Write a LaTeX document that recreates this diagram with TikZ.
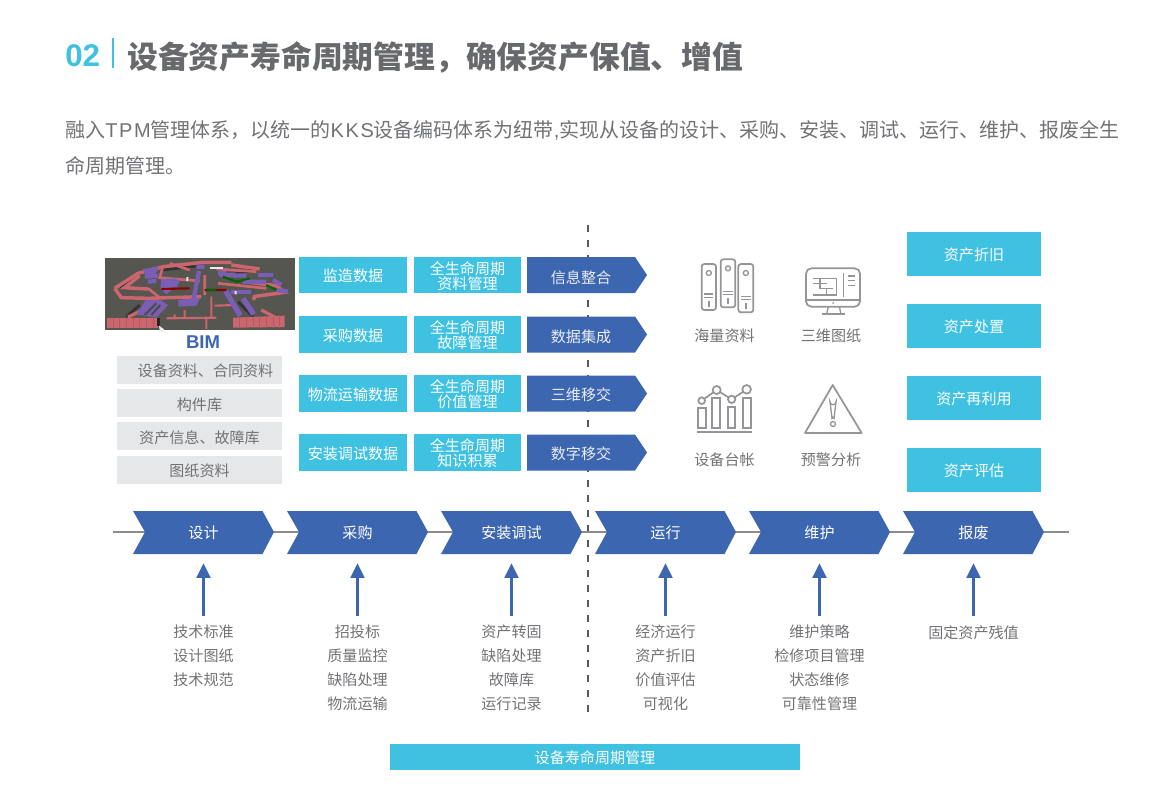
\documentclass[tikz,border=0pt]{standalone}
\usepackage{fontspec}
\setmainfont{Noto Sans CJK SC}
\newfontfamily\lat[LetterSpace=8]{Liberation Sans}
\newfontfamily\latb{Liberation Sans}
\usetikzlibrary{arrows.meta}
\definecolor{cyanc}{HTML}{3FC1E1}
\definecolor{bluec}{HTML}{3D66B0}
\definecolor{grayb}{HTML}{E6E7E8}
\definecolor{txt}{HTML}{717275}
\definecolor{titlec}{HTML}{68696C}
\definecolor{icon}{HTML}{949598}
\definecolor{bimbg}{HTML}{55564F}
\definecolor{bimr}{HTML}{CB666E}
\definecolor{bimp}{HTML}{7A5DB4}
\newcommand\fs[2]{\fontsize{#1}{#2}\selectfont}
\newcommand\dn[1]{\rule{0pt}{#1pt}}
\newcommand\fwc{^^^^ff0c}
\tikzset{
  lbl/.style={inner sep=0pt,text=txt,font=\fs{11.3}{13.6}},
  card/.style={fill=cyanc,inner sep=0pt,text=white,font=\fs{11.3}{11.3},align=center,minimum height=27.4pt},
  graybox/.style={fill=grayb,inner sep=0pt,text=txt,font=\fs{11.3}{13},minimum width=123.75pt,minimum height=21pt},
  rcard/.style={fill=cyanc,inner sep=0pt,text=white,font=\fs{11.3}{13},minimum width=100.5pt,minimum height=33pt},
  steplabel/.style={inner sep=0pt,text=txt,font=\fs{11.3}{18},align=center},
  chevbox/.style={inner sep=0pt,text=white,font=\fs{11.3}{13},minimum width=105.75pt,minimum height=32.25pt},
  penbox/.style={inner sep=0pt,text=white!88!bluec,font=\fs{11.3}{13},minimum width=90pt,minimum height=27pt},
  upar/.style={draw=bluec,line width=1.6pt,-{Triangle[width=10.5pt,length=11pt]},shorten >=6.75pt,shorten <=6.75pt},
  ic/.style={draw=icon,line width=1.3pt,fill=none},
  ict/.style={draw=icon,line width=1pt},
  rw/.style={draw=bimr,line width=2.6pt},
  pw/.style={draw=bimp,line width=3.2pt},
}
\newcommand\chev[3]{% name, center x, text
  \fill[bluec] (#2-70.5,511) -- (#2+59,511) -- (#2+70.5,532) -- (#2+59,554) -- (#2-70.5,554) -- (#2-58.5,532) -- cycle;
  \node[chevbox] (#1) at (#2,532.5) {#3};
}
\newcommand\penta[4]{% name, y, text y, text
  \fill[bluec] (527,#2-18) -- (635,#2-18) -- (647,#2) -- (635,#2+18) -- (527,#2+18) -- cycle;
  \node[penbox] (#1) at (581,#3) {#4};
}
\begin{document}
\begin{tikzpicture}[x=0.75pt,y=-0.75pt]
\useasboundingbox (0,0) rectangle (1169,785);
% heading
\node[anchor=west,inner sep=0pt,text=cyanc,font=\latb\bfseries\fs{23.5}{26}] (num) at (65,56) {02};
\coordinate (bara) at (113,38);
\coordinate (barb) at (113,68);
\draw[cyanc,line width=1.5pt] (bara) -- (barb);
\node[anchor=west,inner sep=0pt,text=titlec,font=\bfseries\fs{23.1}{26}] (title) at (127,57.5) {设备资产寿命周期管理\fwc 确保资产保值、增值};
\node[anchor=west,inner sep=0pt,text=txt,font=\fs{15}{17}] (body1) at (65,130) {融入{\lat TPM}管理体系\fwc 以统一的{\lat KKS}设备编码体系为纽带{\latb ,}实现从设备的设计、采购、安装、调试、运行、维护、报废全生};
\node[anchor=west,inner sep=0pt,text=txt,font=\fs{15}{17}] (body2) at (65,165.5) {命周期管理。};
% divider
\coordinate (dtop) at (588,225);
\coordinate (dbot) at (588,712);
\draw[black!65,line width=1.3pt,dash pattern=on 5.25pt off 6pt] (dtop) -- (dbot);
% timeline
\coordinate (ta) at (113,532);
\coordinate (tb) at (1069,532);
\draw[black!45,line width=1.2pt] (ta) -- (tb);
% BIM image
\begin{scope}[shift={(103,255)},x=0.25pt,y=-0.25pt]
  \begin{scope}
  \clip (6,10) rectangle (576,226);
  \fill[bimbg] (6,10) rectangle (576,226);
  % dark shadow strokes
  \draw[black!80,line width=2pt] (50,95) -- (110,55) (110,150) -- (70,185) (140,180) -- (165,150) (405,140) -- (450,185) (385,60) -- (470,40) (180,45) -- (290,32);
  % red outer loop
  \draw[rw] (35,100) -- (105,55) -- (180,35) -- (300,22) -- (385,22) (385,30) -- (470,42);
  \draw[rw] (35,100) -- (55,128) -- (135,130) -- (295,125);
  \draw[rw] (110,62) -- (65,98) -- (135,102);
  \draw[rw] (450,125) -- (545,112) -- (520,92) -- (440,82);
  \draw[rw,line width=2pt] (180,35) -- (170,68) -- (290,78) (340,42) -- (460,50) (345,85) -- (490,100) (200,25) -- (260,45) (305,60) -- (305,120) (135,100) -- (170,128);
  \draw[rw,line width=1.6pt] (190,190) -- (340,188) (325,125) -- (325,185) (245,165) -- (245,190) (310,185) -- (310,222) (215,178) -- (215,190) (335,152) -- (400,150);
  \draw[rw,line width=2.4pt] (120,165) -- (75,186) (475,165) -- (515,186) (450,125) -- (455,135);
  % purple masses
  \fill[bimp] (128,135) -- (172,135) -- (195,150) -- (160,188) -- (100,178) -- cycle;
  \fill[bimp] (175,72) -- (218,70) -- (212,100) -- (190,118) -- (172,100) -- cycle;
  \fill[bimp] (226,135) -- (292,128) -- (280,152) -- (226,155) -- cycle;
  \fill[bimp] (120,42) -- (168,35) -- (155,60) -- (125,58) -- cycle;
  \draw[black!70,line width=1.6pt] (125,180) -- (160,145) (145,180) -- (172,150);
  \draw[pw] (288,48) -- (272,132);
  \draw[pw] (125,65) -- (165,62) (135,80) -- (160,78) (225,75) -- (215,95);
  \draw[pw,line width=4pt] (368,108) -- (412,182) (420,130) -- (452,178);
  \draw[pw] (385,112) -- (445,112);
  \draw[pw] (350,60) -- (430,62) (420,80) -- (490,80) (465,60) -- (510,60) (510,75) -- (535,90) (520,105) -- (555,110) (280,35) -- (305,35) (345,55) -- (370,55);
  % red/green pipes
  \draw[draw=red!55!black,line width=1.6pt] (175,102) -- (260,100) (305,105) -- (370,105);
  \draw[draw=green!40!black,line width=1.6pt] (360,65) -- (400,80) -- (440,70) (490,90) -- (520,105) (310,105) -- (340,105);
  % bottom blocks
  \fill[bimr] (12,188) -- (165,188) -- (165,218) -- (12,218) -- cycle;
  \fill[bimr] (390,188) -- (545,182) -- (545,216) -- (390,218) -- cycle;
  \foreach \t in {30,50,...,150}{\draw[bimr!88!black,line width=0.3pt] (\t,188) -- (\t,218);}
  \foreach \t in {410,430,...,530}{\draw[bimr!88!black,line width=0.3pt] (\t,187) -- (\t,218);}
  \fill[black!85] (163,190) rectangle (171,212);
  % highlights
  \fill[white!85!gray] (320,35) rectangle (360,42);
  \fill[white!80!gray] (250,66) rectangle (256,78) (395,108) rectangle (401,118);
  \end{scope}
  \fill[white!85!gray] (168,212) -- (182,222) -- (186,234) -- (170,226) -- cycle;
\end{scope}
\node[inner sep=0pt,text=bluec,font=\latb\bfseries\fs{13.9}{15}] (bim) at (203,342) {BIM};
% gray list
\node[graybox] (g1) at (199.5,369.5) {\dn{12}\hspace*{9pt}设备资料、合同资料};
\node[graybox] (g2) at (199.5,403) {\dn{12}构件库};
\node[graybox] (g3) at (199.5,436) {\dn{12}资产信息、故障库};
\node[graybox] (g4) at (199.5,470) {\dn{11}图纸资料};
% data cards
\begin{scope}[every node/.append style={card}]
\node[minimum width=81pt] (d1) at (353,275) {\dn{11}监造数据};
\node[minimum width=81pt] (d2) at (353,334.5) {\dn{11}采购数据};
\node[minimum width=81pt] (d3) at (353,393.5) {\dn{11}物流运输数据};
\node[minimum width=81pt] (d4) at (353,452.5) {\dn{11}安装调试数据};
\node[minimum width=80.25pt] (m1) at (467.5,275) {\dn{11}全生命周期\\资料管理};
\node[minimum width=80.25pt] (m2) at (467.5,334.5) {\dn{11}全生命周期\\故障管理};
\node[minimum width=80.25pt] (m3) at (467.5,393.5) {\dn{11}全生命周期\\价值管理};
\node[minimum width=80.25pt] (m4) at (467.5,452.5) {\dn{11}全生命周期\\知识积累};
\end{scope}
\penta{p1}{275}{278}{信息整合}
\penta{p2}{334.5}{336.5}{数据集成}
\penta{p3}{393.5}{394.5}{三维移交}
\penta{p4}{452.5}{453.5}{数字移交}
% icons
\begin{scope}[shift={(680,250)},x=0.25pt,y=-0.25pt]
  \foreach \xa/\ya/\xb/\yb in {65/42/108/180,122/28/166/172,175/42/220/187}{
    \draw[ic,rounded corners=2pt] (\xa,\ya) rectangle (\xb,\yb);
    \pgfmathsetmacro\xm{(\xa+\xb)/2}
    \draw[ict] (\xm,\ya+27) circle (7.5);
    \draw[ict] (\xa+8,\yb-48) -- (\xb-8,\yb-48) (\xa+8,\yb-38) -- (\xb-8,\yb-38) (\xm,\yb-28) -- (\xm,\yb-10);
  }
  % monitor
  \draw[ic,rounded corners=4pt] (378,55) rectangle (540,170);
  \draw[ic] (378,150) -- (540,150);
  \draw[ict] (445,170) -- (440,192) (478,170) -- (483,192);
  \draw[ic] (425,193) -- (495,193);
  \fill[icon] (459,159) circle (3);
  \draw[ict,line width=1.2pt] (400,85) -- (470,85) -- (470,135) -- (400,135) (400,100) -- (440,100) (420,85) -- (420,115) -- (460,115) (440,115) -- (440,135);
  \draw[ict] (505,78) -- (525,78) (505,92) -- (525,92) (505,106) -- (525,106) (490,70) -- (490,140);
  % chart
  \draw[ic] (50,547) -- (215,547);
  \foreach \xa/\ya/\xb in {55/475/78,97/443/120,143/470/165,190/445/212}{
    \draw[ic] (\xa,\ya) rectangle (\xb,533);
  }
  \draw[ic] (65,452) -- (110,420) -- (155,448) -- (200,418);
  \foreach \cx/\cy/\r in {65/452/10,110/420/12,155/448/11,200/418/13}{
    \draw[ic,fill=white] (\cx,\cy) circle (\r);
  }
  % warning triangle
  \draw[ic,line join=round] (458,405) -- (545,549) -- (375,549) -- cycle;
  \draw[ict] (450,455) arc[start angle=180,end angle=0,radius=9] -- (462,505) arc[start angle=0,end angle=-180,radius=3] -- cycle;
  \draw[ict] (459,522) circle (7.5);
\end{scope}
\node[lbl] (i1) at (724.5,336) {海量资料};
\node[lbl] (i2) at (831,336) {三维图纸};
\node[lbl] (i3) at (724.5,460) {设备台帐};
\node[lbl] (i4) at (831,460) {预警分析};
% right cards
\node[rcard] (r1) at (974,254) {\dn{11}资产折旧};
\node[rcard] (r2) at (974,326) {\dn{11}资产处置};
\node[rcard] (r3) at (974,398) {\dn{11}资产再利用};
\node[rcard] (r4) at (974,470) {\dn{11}资产评估};
% process chevrons
\chev{c1}{203.5}{设计}
\chev{c2}{357.5}{采购}
\chev{c3}{511.5}{安装调试}
\chev{c4}{665.5}{运行}
\chev{c5}{819.5}{维护}
\chev{c6}{973.5}{报废}
% labels below
\node[steplabel,anchor=north] (l1) at (203.5,625) {技术标准\\设计图纸\\技术规范};
\node[steplabel,anchor=north] (l2) at (357.5,625) {招投标\\质量监控\\缺陷处理\\物流运输};
\node[steplabel,anchor=north] (l3) at (511.5,625) {资产转固\\缺陷处理\\故障库\\运行记录};
\node[steplabel,anchor=north] (l4) at (665.5,625) {经济运行\\资产折旧\\价值评估\\可视化};
\node[steplabel,anchor=north] (l5) at (819.5,625) {维护策略\\检修项目管理\\状态维修\\可靠性管理};
\node[steplabel,anchor=north] (l6) at (973.5,625) {固定资产残值};
\foreach \i in {1,...,6}{\draw[upar] (l\i.north) -- (c\i.south);}
% bottom bar
\node[fill=cyanc,inner sep=0pt,text=white,font=\fs{11.3}{13},minimum width=307.5pt,minimum height=19.5pt] (bar) at (595,757) {\dn{11}设备寿命周期管理};
\end{tikzpicture}
\end{document}
